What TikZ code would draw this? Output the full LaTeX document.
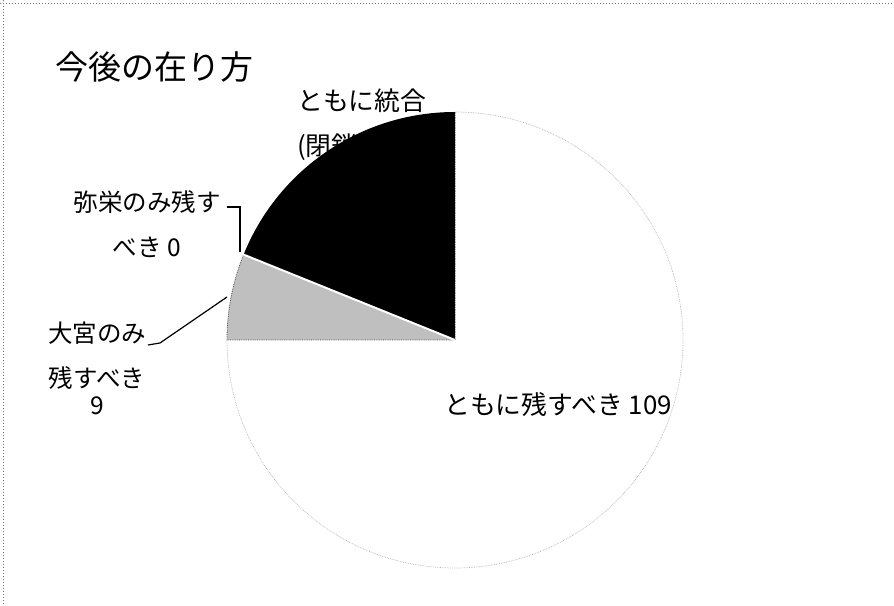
\documentclass[tikz,border=0pt]{standalone}
\usepackage{fontspec}
\setmainfont{Noto Sans CJK JP}
\begin{document}
\begin{tikzpicture}[x=1pt,y=1pt,
  lbl/.style={font=\fontsize{24.5}{45}\selectfont, inner sep=0pt, align=center},
  lblbig/.style={font=\fontsize{25.8}{45}\selectfont, inner sep=0pt, align=left},
  leader/.style={draw=black, line width=1.2pt},
  rim/.style={draw=black!30, densely dotted, line width=0.7pt},
  frameline/.style={draw=black!55, dotted, line width=1pt}]
\useasboundingbox (0,0) rectangle (894,605);
% scanned frame
\coordinate (f0) at (0,601);
\coordinate (f1) at (894,601);
\coordinate (f2) at (3,605);
\coordinate (f3) at (3,0);
\draw[frameline] (f0) -- (f1);
\draw[frameline] (f2) -- (f3);
% pie
\coordinate (C) at (455,265);
\draw[rim] (C) ++(180:228) arc[start angle=180, end angle=450, radius=228];
\filldraw[fill=black!25, draw=black!70, densely dotted, line width=0.8pt]
  (C) -- ++(158:228) arc[start angle=158, end angle=180, radius=228] -- cycle;
\fill[black] (C) -- ++(90:228) arc[start angle=90, end angle=158, radius=228] -- cycle;
\draw[white, line width=2pt] (C) -- ++(158:229);
\draw[rim] (C) -- ++(90:228);
% texts
\node[font=\fontsize{33}{38}\selectfont, inner sep=0pt, anchor=north west] (title) at (55,554) {今後の在り方};
\node[lblbig, anchor=north west] (lblT) at (297,516) {ともに統合\\(閉鎖)すべき};
\node[lbl, anchor=north] (lblY) at (147,415) {弥栄のみ残す\\べき 0};
\node[lbl, anchor=north] (lblO) at (97,283) {大宮のみ\\残すべき\\[-18pt]9};
\node[lblbig, anchor=north west] (lblB) at (444,213) {ともに残すべき 109};
% leaders
\coordinate (a1) at (227,398);
\coordinate (a2) at (240,353);
\draw[leader] (a1) -| (a2);
\coordinate (b1) at (148,260);
\coordinate (b2) at (227,308);
\draw[leader] (b1) -- ++(12,2) -- (b2);
\end{tikzpicture}
\end{document}
